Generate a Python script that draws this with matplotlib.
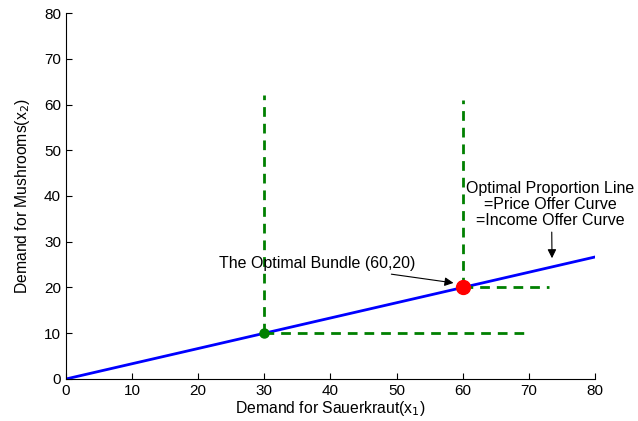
import matplotlib.pyplot as plt

plt.rcParams['font.family'] = ['Liberation Sans', 'DejaVu Sans']

# optimal proportion line x2 = x1/3
line_x = [0, 80]
line_y = [0, 80 / 3]

# bundles and their L-shaped indifference curves
bundle_x = [30, 60]
bundle_y = [10, 20]
vert_top = [62, 61]
horiz_end = [70, 73]
dot_colors = ["green", "red"]
dot_sizes = [6.5, 10]

fig = plt.figure(figsize=(6.38, 4.21), dpi=100)
ax = fig.add_axes([0.1034, 0.0998, 0.8292, 0.8693])

ax.plot(line_x, line_y, color="blue", lw=2)

for bx, by, vt, he in zip(bundle_x, bundle_y, vert_top, horiz_end):
    ax.plot([bx, bx], [by, vt], color="green", lw=2, ls=(0, (3.5, 2.5)))
    ax.plot([bx, he], [by, by], color="green", lw=2, ls=(0, (3.5, 2.5)))

for bx, by, c, s in zip(bundle_x, bundle_y, dot_colors, dot_sizes):
    ax.plot(bx, by, "o", color=c, markersize=s, zorder=5)

ax.annotate("The Optimal Bundle (60,20)", xy=(58.6, 21.0), xytext=(52.8, 25.2),
            ha="right", va="center", fontsize=11.5,
            arrowprops=dict(arrowstyle="-|>", color="black", lw=0.8,
                            mutation_scale=13, shrinkA=1, shrinkB=0))
ax.annotate("Optimal Proportion Line\n=Price Offer Curve\n=Income Offer Curve",
            xy=(73.5, 26.4), xytext=(73.2, 38.2), ha="center", va="center",
            fontsize=11.5, linespacing=1.1,
            arrowprops=dict(arrowstyle="-|>", color="black", lw=0.8,
                            mutation_scale=13, shrinkA=1, shrinkB=0,
                            relpos=(0.51, 0)))

ax.set_xlim(0, 80)
ax.set_ylim(0, 80)
ax.set_xticks(range(0, 81, 10))
ax.set_yticks(range(0, 81, 10))
ax.tick_params(direction="in", labelsize=11, length=4)
ax.spines["top"].set_visible(False)
ax.spines["right"].set_visible(False)
ax.set_xlabel("Demand for Sauerkraut(x$_1$)", fontsize=11.3, labelpad=1)
ax.set_ylabel("Demand for Mushrooms(x$_2$)", fontsize=11.3, labelpad=9)

fig.savefig("out.png", dpi=100)
